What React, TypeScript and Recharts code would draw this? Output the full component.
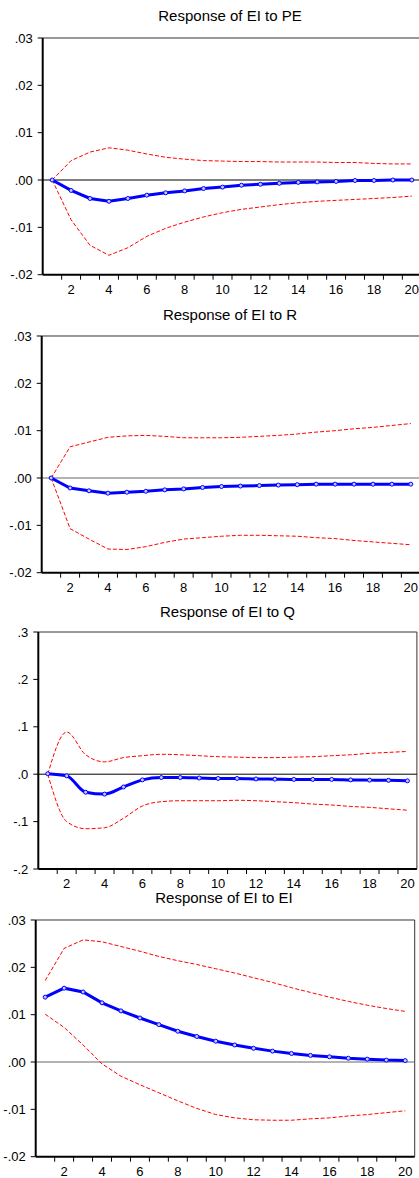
import React from 'react';
import { LineChart, Line, XAxis, YAxis, ReferenceLine } from 'recharts';

// ---------- data ----------
const periods = [1, 2, 3, 4, 5, 6, 7, 8, 9, 10, 11, 12, 13, 14, 15, 16, 17, 18, 19, 20];

const peResponse = [0, -0.0022, -0.0039, -0.0045, -0.0039, -0.0032, -0.0027, -0.0023, -0.0018, -0.0015, -0.0011, -0.0009, -0.0007, -0.0005, -0.0004, -0.0003, -0.0001, -0.0001, 0.0, 0.0];
const peUpper = [0, 0.0041, 0.0059, 0.0068, 0.0063, 0.0055, 0.0048, 0.0044, 0.0041, 0.004, 0.0039, 0.0039, 0.0038, 0.0038, 0.0038, 0.0037, 0.0037, 0.0035, 0.0034, 0.0034];
const peLower = [0, -0.0084, -0.0138, -0.0159, -0.0143, -0.0119, -0.0102, -0.0089, -0.0078, -0.0069, -0.0062, -0.0057, -0.0052, -0.0048, -0.0045, -0.0043, -0.0041, -0.0039, -0.0037, -0.0034];

const rResponse = [0, -0.0021, -0.0027, -0.0032, -0.003, -0.0028, -0.0025, -0.0023, -0.002, -0.0018, -0.0017, -0.0016, -0.0015, -0.0014, -0.0013, -0.0013, -0.0013, -0.0013, -0.0013, -0.0013];
const rUpper = [0, 0.0066, 0.0076, 0.0086, 0.0089, 0.009, 0.0088, 0.0085, 0.0085, 0.0085, 0.0086, 0.0088, 0.009, 0.0093, 0.0097, 0.01, 0.0104, 0.0107, 0.0111, 0.0115];
const rLower = [0, -0.0107, -0.0129, -0.015, -0.0151, -0.0145, -0.0136, -0.0129, -0.0126, -0.0123, -0.0121, -0.0121, -0.0122, -0.0123, -0.0126, -0.0128, -0.0132, -0.0135, -0.0138, -0.0141];

const qResponse = [0.001, -0.0035, -0.038, -0.042, -0.027, -0.012, -0.007, -0.007, -0.008, -0.009, -0.009, -0.01, -0.0105, -0.011, -0.011, -0.011, -0.012, -0.0125, -0.013, -0.014];
const qUpper = [0, 0.089, 0.041, 0.026, 0.035, 0.039, 0.042, 0.041, 0.039, 0.037, 0.036, 0.035, 0.035, 0.036, 0.037, 0.039, 0.041, 0.044, 0.046, 0.048];
const qLower = [0, -0.1, -0.115, -0.113, -0.093, -0.067, -0.058, -0.056, -0.056, -0.056, -0.055, -0.056, -0.058, -0.06, -0.063, -0.065, -0.068, -0.07, -0.073, -0.076];

const eiResponse = [0.0137, 0.0156, 0.0148, 0.0125, 0.0108, 0.0093, 0.0079, 0.0065, 0.0054, 0.0044, 0.0036, 0.0029, 0.0023, 0.0018, 0.0014, 0.0011, 0.0008, 0.0006, 0.0004, 0.0003];
const eiUpper = [0.0172, 0.024, 0.0258, 0.0254, 0.0244, 0.0234, 0.0223, 0.0214, 0.0206, 0.0197, 0.0188, 0.0178, 0.0168, 0.0157, 0.0147, 0.0137, 0.0128, 0.012, 0.0113, 0.0107];
const eiLower = [0.0101, 0.0073, 0.0036, -0.0004, -0.003, -0.0048, -0.0065, -0.0082, -0.0098, -0.0111, -0.0118, -0.0122, -0.0123, -0.0123, -0.012, -0.0118, -0.0114, -0.0111, -0.0107, -0.0103];

const xTickLabels = [2, 4, 6, 8, 10, 12, 14, 16, 18, 20];
const xTickMarks = [1.5, 2.5, 3.5, 4.5, 5.5, 6.5, 7.5, 8.5, 9.5, 10.5, 11.5, 12.5, 13.5, 14.5, 15.5, 16.5, 17.5, 18.5, 19.5];
const yTicksSmall = [-0.02, -0.01, 0, 0.01, 0.02, 0.03];
const yTicksQ = [-0.2, -0.1, 0, 0.1, 0.2, 0.3];

const titles = ['Response of EI to PE', 'Response of EI to R', 'Response of EI to Q', 'Response of EI to EI'];

// ---------- layout ----------
const FONT = '"Liberation Sans", Arial, Helvetica, sans-serif';
const CW = 440;

const panels = [
  { title: titles[0], resp: peResponse, upper: peUpper, lower: peLower, yTicks: yTicksSmall, dec: 2, plotTop: 38.3, plotBottom: 275, plotLeft: 42.7, plotRight: 421.3, titleX: 230, titleY: 15.5, zero: '#000', curve: 'linear' },
  { title: titles[1], resp: rResponse, upper: rUpper, lower: rLower, yTicks: yTicksSmall, dec: 2, plotTop: 336, plotBottom: 572.7, plotLeft: 41.7, plotRight: 420.3, titleX: 230, titleY: 315, zero: '#666', curve: 'linear' },
  { title: titles[2], resp: qResponse, upper: qUpper, lower: qLower, yTicks: yTicksQ, dec: 1, plotTop: 632.3, plotBottom: 869.3, plotLeft: 38.3, plotRight: 416.9, titleX: 227.5, titleY: 611.7, zero: '#000', curve: 'monotone' },
  { title: titles[3], resp: eiResponse, upper: eiUpper, lower: eiLower, yTicks: yTicksSmall, dec: 2, plotTop: 920, plotBottom: 1156.7, plotLeft: 35.7, plotRight: 414.7, titleX: 224, titleY: 898, zero: '#666', curve: 'linear' },
];

const fmt = (dec: number) => (v: number) => {
  const s = v.toFixed(dec);
  return s.replace('0.', '.');
};

const XTick = (props: any) => {
  const { x, y, payload } = props;
  const v = payload.value;
  if (Number.isInteger(v)) {
    return (
      <text x={x} y={y + 10} dy="0.71em" textAnchor="middle" fontSize={13} fontFamily={FONT} fill="#000">
        {v}
      </text>
    );
  }
  return <line x1={x} x2={x} y1={y} y2={y + 5} stroke="#000" strokeWidth={1} />;
};

const Panel = ({ p }: { p: any }) => {
  const data = periods.map((t, i) => ({ t, resp: p.resp[i], upper: p.upper[i], lower: p.lower[i] }));
  const top = p.plotTop - 10;
  const height = p.plotBottom - p.plotTop + 10 + 30;
  const ymin = p.yTicks[0];
  const ymax = p.yTicks[p.yTicks.length - 1];
  const ticks = [...xTickMarks, ...xTickLabels].sort((a, b) => a - b);
  return (
    <>
      <div
        style={{
          position: 'absolute',
          left: p.titleX - 150,
          width: 300,
          top: p.titleY - 9,
          height: 18,
          lineHeight: '18px',
          textAlign: 'center',
          fontFamily: FONT,
          fontSize: 15,
          color: '#000',
          whiteSpace: 'nowrap',
        }}
      >
        {p.title}
      </div>
      <div style={{ position: 'absolute', left: 0, top }}>
        <LineChart width={CW} height={height} data={data} margin={{ top: 10, right: CW - p.plotRight, bottom: 0, left: 0 }}>
          <XAxis
            dataKey="t"
            type="number"
            domain={[0.5, 20.5]}
            ticks={ticks}
            interval={0}
            height={30}
            tickSize={0}
            tickMargin={0}
            tickLine={false}
            tick={<XTick />}
            axisLine={{ stroke: '#000', strokeWidth: 2 }}
          />
          <YAxis
            type="number"
            domain={[ymin, ymax]}
            ticks={p.yTicks}
            interval={0}
            width={p.plotLeft}
            tickSize={5}
            tickMargin={5}
            tickFormatter={fmt(p.dec)}
            tick={{ fontSize: 13, fontFamily: FONT, fill: '#000' }}
            tickLine={{ stroke: '#000', strokeWidth: 1 }}
            axisLine={{ stroke: '#000', strokeWidth: 2 }}
          />
          <ReferenceLine y={ymax} stroke="#333" strokeWidth={1} />
          <ReferenceLine x={20.5} stroke="#333" strokeWidth={1} />
          <ReferenceLine y={0} stroke={p.zero} strokeWidth={1} />
          <Line type={p.curve} dataKey="upper" stroke="#ff0000" strokeWidth={1} strokeDasharray="4 2" dot={false} isAnimationActive={false} />
          <Line type={p.curve} dataKey="lower" stroke="#ff0000" strokeWidth={1} strokeDasharray="4 2" dot={false} isAnimationActive={false} />
          <Line
            type={p.curve}
            dataKey="resp"
            stroke="#0000ff"
            strokeWidth={3}
            dot={{ r: 2, stroke: '#0000ff', strokeWidth: 1, fill: '#c8c8ff' }}
            isAnimationActive={false}
          />
        </LineChart>
      </div>
    </>
  );
};

export default function App() {
  return (
    <div style={{ position: 'absolute', left: 0, top: 0, width: 419, height: 1178, overflow: 'hidden', background: '#fff' }}>
      {panels.map((p, i) => (
        <Panel key={i} p={p} />
      ))}
    </div>
  );
}
